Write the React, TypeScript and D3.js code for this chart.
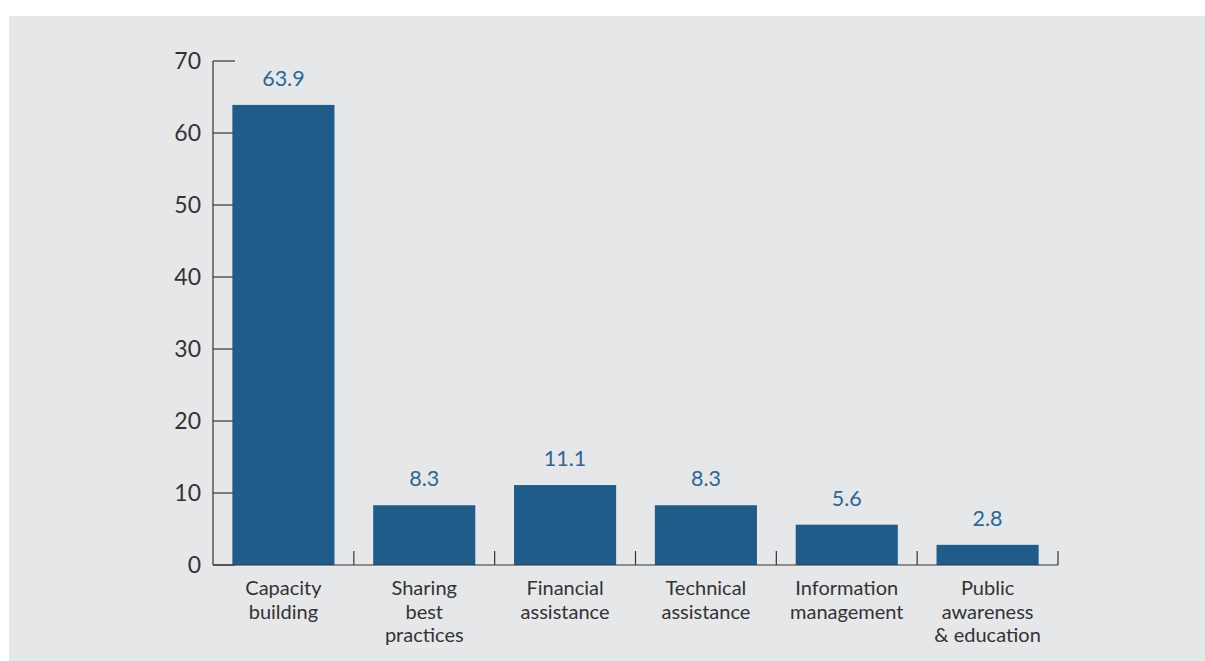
import * as d3 from "d3";
import * as React from "react";

// chart data
const categories = [
  ["Capacity", "building"],
  ["Sharing", "best", "practices"],
  ["Financial", "assistance"],
  ["Technical", "assistance"],
  ["Information", "management"],
  ["Public", "awareness", "& education"],
];
const values = [63.9, 8.3, 11.1, 8.3, 5.6, 2.8];
const yTicks = [0, 10, 20, 30, 40, 50, 60, 70];

const W = 1205,
  H = 661;
const BAR = "#1f5c8a";
const TEXT = "#333333";
const FONT = "Lato, 'Noto Sans', sans-serif";

export default function App() {
  const margin = { left: 213, right: 147, top: 61, bottom: 96 };
  const keys = categories.map((c) => c.join(" "));

  const x = d3
    .scaleBand()
    .domain(keys)
    .range([margin.left, W - margin.right])
    .padding(0);
  const y = d3
    .scaleLinear()
    .domain([0, 70])
    .range([H - margin.bottom, margin.top]);

  const step = x.step();
  const barW = step * 0.725;
  const y0 = y(0);

  return (
    <svg
      width={W}
      height={H}
      style={{ position: "absolute", left: 0, top: 0, display: "block" }}
    >
      <rect x={0} y={0} width={W} height={H} fill="#ffffff" />
      <rect x={9} y={16} width={W - 9} height={H - 16} fill="#e6e7e9" />

      {/* y axis */}
      <line
        x1={margin.left}
        x2={margin.left}
        y1={y(70)}
        y2={y0}
        stroke="#333"
        strokeWidth={1.2}
      />
      {yTicks.map((t) => (
        <g key={"yt-" + t}>
          <line
            x1={margin.left}
            x2={margin.left + 22}
            y1={y(t)}
            y2={y(t)}
            stroke="#333"
            strokeWidth={1.2}
          />
          <text
            x={margin.left - 12}
            y={y(t)}
            dy="0.36em"
            textAnchor="end"
            fontFamily={FONT}
            fontSize={23}
            fill={TEXT}
          >
            {t}
          </text>
        </g>
      ))}

      {/* bars */}
      {keys.map((k, i) => {
        const bx = (x(k) as number) + (step - barW) / 2;
        const v = values[i];
        return (
          <g key={"bar-" + i}>
            <rect
              x={bx}
              y={y(v)}
              width={barW}
              height={y0 - y(v)}
              fill={BAR}
            />
            <text
              x={bx + barW / 2}
              y={y(v) - 19}
              textAnchor="middle"
              fontFamily={FONT}
              fontSize={21.5}
              fill="#2a6797"
            >
              {v.toFixed(1)}
            </text>
          </g>
        );
      })}

      {/* x axis */}
      <line
        x1={margin.left}
        x2={W - margin.right}
        y1={y0}
        y2={y0}
        stroke="#333"
        strokeWidth={1.2}
      />
      {keys.map((k, i) => (
        <line
          key={"xt-" + i}
          x1={(x(k) as number) + step}
          x2={(x(k) as number) + step}
          y1={y0}
          y2={y0 - 14}
          stroke="#333"
          strokeWidth={1.2}
        />
      ))}
      {categories.map((lines, i) => (
        <text
          key={"xl-" + i}
          x={(x(keys[i]) as number) + step / 2}
          y={595}
          textAnchor="middle"
          fontFamily={FONT}
          fontSize={20}
          fill={TEXT}
        >
          {lines.map((l, j) => (
            <tspan
              key={j}
              x={(x(keys[i]) as number) + step / 2}
              dy={j === 0 ? 0 : 23.5}
            >
              {l}
            </tspan>
          ))}
        </text>
      ))}
    </svg>
  );
}
